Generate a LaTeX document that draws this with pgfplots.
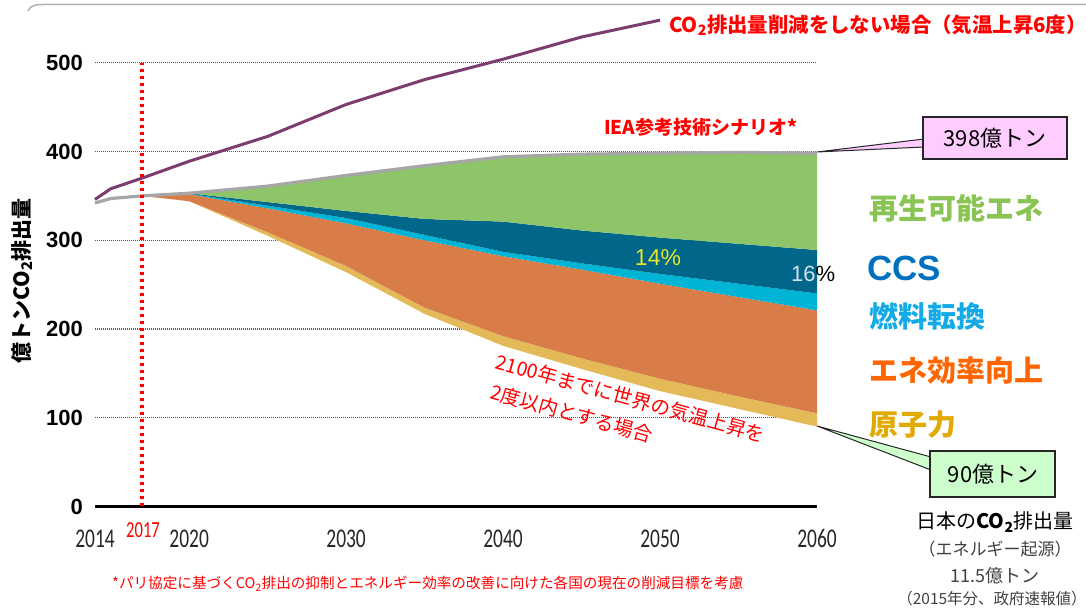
\documentclass[border=0pt]{standalone}
\usepackage{pgfplots}
\pgfplotsset{compat=1.18}
\usepackage{pgfplotstable}
\usepgfplotslibrary{fillbetween}
\usepackage{fontspec}
\setmainfont{Liberation Sans}
\newfontfamily\jp{Noto Sans CJK JP}
\newfontfamily\yearfont[FakeStretch=0.72]{Carlito}
\newcommand{\fs}[1]{\fontsize{#1}{#1}\selectfont}

% area colours
\definecolor{cGr}{RGB}{141,197,104}
\definecolor{cDb}{RGB}{0,103,138}
\definecolor{cLb}{RGB}{0,180,214}
\definecolor{cOra}{RGB}{216,125,72}
\definecolor{cYel}{RGB}{228,185,88}
\definecolor{cPur}{RGB}{125,60,110}
\definecolor{cGray}{RGB}{166,166,166}
% label colours
\definecolor{lGreen}{RGB}{137,196,84}
\definecolor{lBlue}{RGB}{0,112,192}
\definecolor{lCyan}{RGB}{20,170,230}
\definecolor{lOrange}{RGB}{255,102,0}
\definecolor{lGold}{RGB}{225,170,0}
\definecolor{pct}{RGB}{230,230,40}
\definecolor{pctw}{RGB}{215,225,235}
\definecolor{pinkbox}{RGB}{255,204,255}
\definecolor{greenbox}{RGB}{204,255,204}
\definecolor{dotred}{RGB}{255,0,0}

% boundaries of the stacked wedges (b0 = 2 degree path, b5 = IEA reference)
\pgfplotstableread{
year b0  b1  b2    b3    b4  b5
2017 350 350 350   350   350 350
2020 344 344 352   352.5 353 353
2025 305 309 336   339   343 361
2030 264 271 319   325   333 373
2035 217 224 300   306   324 384
2040 181 192 282   287   321 394
2045 155 167 267   274   311 397
2050 130 144 251   262   303 398
2055 110 124 236   251   296 399
2060 90  105 221   240   289 398
}\wedges

\pgfplotstableread{
year bau
2014 346
2015 358
2017 370
2020 389
2025 417
2030 453
2035 481
2040 504
2045 529
2050 548
}\bau

\pgfplotstableread{
year iea
2014 342
2015 347
2017 350
2020 353
2025 361
2030 373
2035 384
2040 394
2045 397
2050 398
2055 399
2060 398
}\iea

\begin{document}
\begin{tikzpicture}
\begin{axis}[
  at={(95pt,103.5pt)}, anchor=south west,
  scale only axis, width=722pt, height=497pt,
  xmin=2014, xmax=2060, ymin=0, ymax=560,
  axis x line*=bottom, axis y line*=left,
  x axis line style={line width=2.5pt, black},
  y axis line style={draw=none},
  major tick length=0pt,
  xtick={2014,2020,2030,2040,2050,2060},
  xticklabels={2014,2020,2030,2040,2050,2060},
  xticklabel style={font=\yearfont\fs{27}, text=black!85, anchor=base, yshift=-41.5pt, inner sep=0pt},
  ytick={0,100,...,500},
  yticklabel style={font=\bfseries\fs{22}, anchor=east, inner sep=0pt, xshift=-12pt},
  /pgf/number format/assume math mode=true,
  ymajorgrids,
  grid style={black!65, line width=1.2pt, dash pattern=on 1pt off 1pt},
  clip=false,
]
\addplot[draw=none, no marks, forget plot, name path=b0] table[x=year,y=b0]{\wedges};
\addplot[draw=none, no marks, forget plot, name path=b1] table[x=year,y=b1]{\wedges};
\addplot[draw=none, no marks, forget plot, name path=b2] table[x=year,y=b2]{\wedges};
\addplot[draw=none, no marks, forget plot, name path=b3] table[x=year,y=b3]{\wedges};
\addplot[draw=none, no marks, forget plot, name path=b4] table[x=year,y=b4]{\wedges};
\addplot[draw=none, no marks, forget plot, name path=b5] table[x=year,y=b5]{\wedges};

\addplot[fill=cYel, draw=none] fill between[of=b0 and b1];
\addplot[fill=cOra, draw=none] fill between[of=b1 and b2];
\addplot[fill=cLb, draw=none] fill between[of=b2 and b3];
\addplot[fill=cDb, draw=none] fill between[of=b3 and b4];
\addplot[fill=cGr, draw=none] fill between[of=b4 and b5];

\addplot[cGray, line width=3.2pt, no marks] table[x=year,y=iea]{\iea};
\addplot[cPur, line width=3pt, no marks] table[x=year,y=bau]{\bau};

\draw[dotred, line width=3.2pt, dash pattern=on 3.5pt off 3.5pt] (axis cs:2017,0) -- (axis cs:2017,500);
\end{axis}

% annotations in image pixel coordinates (origin top left)
\begin{scope}[x=1pt, y=-1pt, yshift=610pt]
\draw[black!30, line width=1.5pt] (28,11) to[out=70,in=180] (44,4.5) -- (1086,4.5);

% red annotations
\node[anchor=west, inner sep=0, text=red, font=\jp\bfseries\fs{20.4}] at (669,25) {CO\textsubscript{2}排出量削減をしない場合（気温上昇6度）};
\node[anchor=west, inner sep=0, text=red, font=\jp\bfseries\fs{19}] at (604,127) {IEA参考技術シナリオ*};
\node[anchor=west, inner sep=0, text=red, font=\jp\fs{19.6}, rotate=-15.5] at (496,361) {2100年までに世界の気温上昇を};
\node[anchor=west, inner sep=0, text=red, font=\jp\fs{19.6}, rotate=-15.5] at (491,391) {2度以内とする場合};
\node[inner sep=0, text=red, font=\yearfont\fs{23}] at (143,530) {2017};
\node[anchor=west, inner sep=0, text=red, font=\jp\fs{14.6}] at (112,584) {*パリ協定に基づくCO\textsubscript{2}排出の抑制とエネルギー効率の改善に向けた各国の現在の削減目標を考慮};

% percentages
\node[inner sep=0, text=pct, font=\fs{23}] at (658,258) {14\%};
\node[anchor=west, inner sep=0, font=\fs{22}] at (791,274) {\textcolor{pctw}{16}\%};

% axis title
\node[rotate=90, inner sep=0, font=\jp\bfseries\fs{21}] at (22,281) {億トンCO\textsubscript{2}排出量};

% category labels on the right
\node[anchor=west, inner sep=0, text=lGreen, font=\jp\bfseries\fs{29}] at (869,208) {再生可能エネ};
\node[anchor=west, inner sep=0, text=lBlue, font=\bfseries\fs{35}] at (867,268) {CCS};
\node[anchor=west, inner sep=0, text=lCyan, font=\jp\bfseries\fs{29}] at (869,316) {燃料転換};
\node[anchor=west, inner sep=0, text=lOrange, font=\jp\bfseries\fs{29}] at (869,371) {エネ効率向上};
\node[anchor=west, inner sep=0, text=lGold, font=\jp\bfseries\fs{29}] at (869,425) {原子力};

% callouts
\draw[fill=pinkbox, draw=black!85, line width=1pt] (817,152) -- (924,139) -- (924,147) -- cycle;
\draw[fill=pinkbox, draw=black!85, line width=1.2pt] (923,117) rectangle (1067,159);
\node[inner sep=0, font=\jp\fs{22}] at (995,138) {398億トン};
\draw[fill=greenbox, draw=black!85, line width=1pt] (817,426) -- (931,457) -- (931,470) -- cycle;
\draw[fill=greenbox, draw=black!85, line width=1.2pt] (930,451) rectangle (1055,497);
\node[inner sep=0, font=\jp\fs{22}] at (993,474) {90億トン};

% Japan note
\node[inner sep=0, font=\jp\fs{20}] at (995,522) {日本の{\bfseries CO\textsubscript{2}}排出量};
\node[inner sep=0, text=black!75, font=\jp\fs{17}] at (995,549) {（エネルギー起源）};
\node[inner sep=0, text=black!75, font=\jp\fs{18}] at (995,576) {11.5億トン};
\node[inner sep=0, text=black!75, font=\jp\fs{15.5}] at (992,599) {（2015年分、政府速報値）};
\end{scope}

\pgfresetboundingbox
\path[use as bounding box] (0,0) rectangle (1086pt,610pt);
\end{tikzpicture}
\end{document}
